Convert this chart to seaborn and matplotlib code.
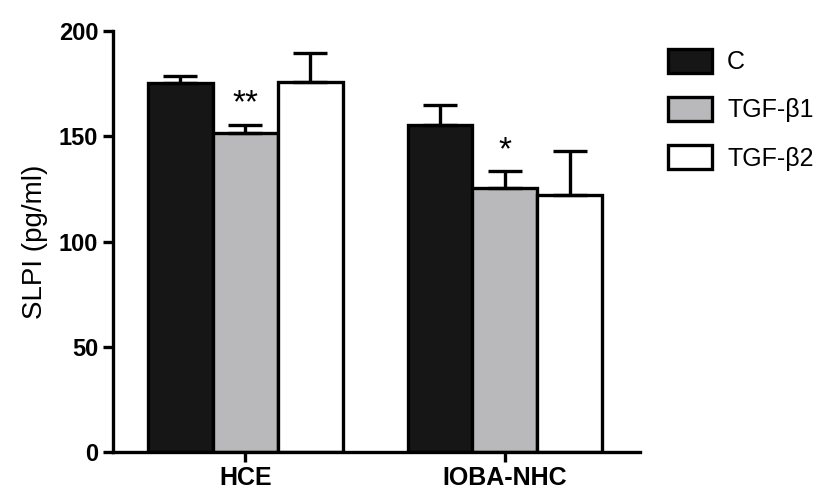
import pandas as pd
import numpy as np
import matplotlib
matplotlib.use("Agg")
import matplotlib.pyplot as plt
import seaborn as sns
from matplotlib import font_manager
from matplotlib.patches import Patch
from matplotlib.container import BarContainer

# data
cells = ["HCE", "IOBA-NHC"]
treatments = ["C", "TGF-β1", "TGF-β2"]
mean_c = [175.5, 155.5]
mean_b1 = [151.5, 125.5]
mean_b2 = [176.0, 122.0]
sem_c = [3.0, 9.5]
sem_b1 = [4.0, 8.0]
sem_b2 = [13.5, 21.0]
stars = ["**", "*"]  # above TGF-β1 bars

colors = ["#161616", "#b9b9bb", "#ffffff"]

df = pd.DataFrame({
    "cell": cells * 3,
    "treatment": [t for t in treatments for _ in cells],
    "slpi": mean_c + mean_b1 + mean_b2,
})
errs = [sem_c, sem_b1, sem_b2]
means = [mean_c, mean_b1, mean_b2]

sns.set_style("ticks", {"axes.edgecolor": "black", "text.color": "black",
                        "axes.labelcolor": "black", "xtick.color": "black",
                        "ytick.color": "black"})
names = {f.name for f in font_manager.fontManager.ttflist}
fam = "Liberation Sans Narrow" if "Liberation Sans Narrow" in names else "Liberation Sans"
plt.rcParams["font.family"] = [fam, "DejaVu Sans"]

fig = plt.figure(figsize=(8.3, 4.96), dpi=100)
ax = fig.add_axes([0.136, 0.089, 0.635, 0.848])

lw = 2.4
sns.barplot(data=df, x="cell", y="slpi", hue="treatment", order=cells,
            hue_order=treatments, palette=colors, edgecolor="black",
            linewidth=lw, width=0.75, errorbar=None, legend=False, ax=ax)

bars = [c for c in ax.containers if isinstance(c, BarContainer)]
for i, cont in enumerate(bars):
    xs = [b.get_x() + b.get_width() / 2 for b in cont]
    ax.errorbar(xs, means[i], yerr=[np.zeros(len(xs)), errs[i]], fmt="none",
                ecolor="black", elinewidth=lw, capsize=12.5, capthick=lw,
                zorder=1)
    if i == 1:
        for x, m, e, s in zip(xs, means[i], errs[i], stars):
            ax.text(x, m + e + 2.5, s, ha="center", va="bottom", fontsize=24)

ax.set_xlim(-0.51, 1.52)
ax.set_ylim(0, 200)
ax.set_yticks([0, 50, 100, 150, 200])
ax.set_xlabel("")
ax.set_ylabel("SLPI (pg/ml)", fontsize=20, labelpad=8)
for s in ["top", "right"]:
    ax.spines[s].set_visible(False)
for s in ["left", "bottom"]:
    ax.spines[s].set_linewidth(lw)
ax.tick_params(axis="both", width=lw, length=7, direction="out", colors="black")
for lab in ax.get_yticklabels():
    lab.set_fontsize(17)
    lab.set_fontweight("bold")
for lab in ax.get_xticklabels():
    lab.set_fontsize(18)
    lab.set_fontweight("bold")

handles = [Patch(facecolor=c, edgecolor="black", linewidth=lw) for c in colors]
fig.legend(handles, treatments, loc="upper left", bbox_to_anchor=(0.805, 0.902),
           frameon=False, fontsize=18, handlelength=1.76, handleheight=1.12,
           handletextpad=0.6, labelspacing=0.9, borderaxespad=0, borderpad=0)

fig.savefig("out.png", dpi=100)
